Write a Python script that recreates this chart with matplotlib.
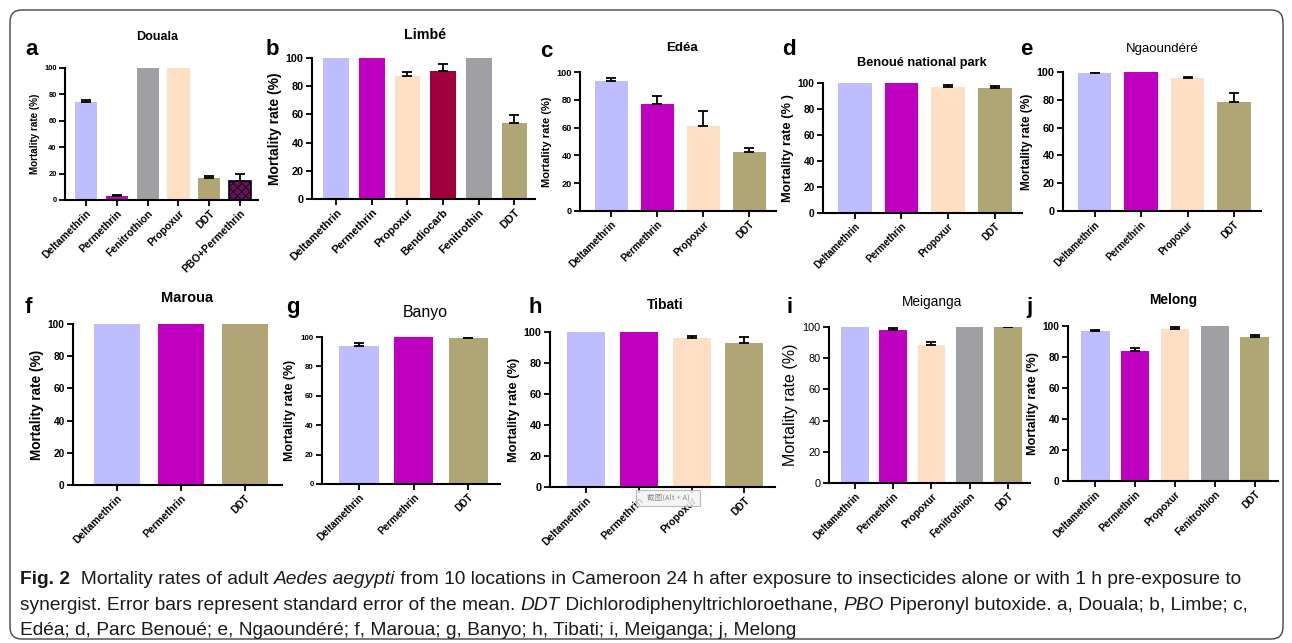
import matplotlib.pyplot as plt
from matplotlib import font_manager
from matplotlib.patches import FancyBboxPatch, Rectangle
from matplotlib.transforms import IdentityTransform

W, H = 1292, 643

# colours used by the insecticides
LAV = "#bdbdff"
MAG = "#c000c0"
PEACH = "#ffdfc3"
OLIVE = "#b0a574"
GREY = "#a0a0a4"
CRIMSON = "#a0003c"
PBO = "#6a1060"

# ---- data (mortality %, standard error) ----
douala_drugs = ["Deltamethrin", "Permethrin", "Fenitrothion", "Propoxur", "DDT", "PBO+Permethrin"]
douala_mort = [74.2, 3.0, 100, 100, 17.0, 14.7]
douala_sem = [1.5, 1.0, 0, 0, 1.5, 5.0]

limbe_drugs = ["Deltamethrin", "Permethrin", "Propoxur", "Bendiocarb", "Fenitrothin", "DDT"]
limbe_mort = [100, 100, 87.0, 91.0, 100, 53.7]
limbe_sem = [0, 0, 3.0, 5.0, 0, 5.6]

edea_drugs = ["Deltamethrin", "Permethrin", "Propoxur", "DDT"]
edea_mort = [93.2, 76.8, 61.5, 42.3]
edea_sem = [2.2, 6.2, 10.7, 2.9]

benoue_drugs = ["Deltamethrin", "Permethrin", "Propoxur", "DDT"]
benoue_mort = [100, 100, 97.0, 96.2]
benoue_sem = [0, 0, 1.7, 1.2]

ngaoundere_drugs = ["Deltamethrin", "Permethrin", "Propoxur", "DDT"]
ngaoundere_mort = [99.3, 100, 96.0, 78.1]
ngaoundere_sem = [0.5, 0, 0.3, 7.0]

maroua_drugs = ["Deltamethrin", "Permethrin", "DDT"]
maroua_mort = [100, 100, 100]
maroua_sem = [0, 0, 0]

banyo_drugs = ["Deltamethrin", "Permethrin", "DDT"]
banyo_mort = [93.9, 100, 99.5]
banyo_sem = [1.8, 0, 0.3]

tibati_drugs = ["Deltamethrin", "Permethrin", "Propoxur", "DDT"]
tibati_mort = [100, 100, 96.4, 93.0]
tibati_sem = [0, 0, 1.2, 4.0]

meiganga_drugs = ["Deltamethrin", "Permethrin", "Propoxur", "Fenitrothion", "DDT"]
meiganga_mort = [100, 98.1, 88.3, 100, 99.8]
meiganga_sem = [0, 1.0, 1.9, 0, 0.2]

melong_drugs = ["Deltamethrin", "Permethrin", "Propoxur", "Fenitrothion", "DDT"]
melong_mort = [97.0, 83.9, 97.8, 100, 92.9]
melong_sem = [0.6, 1.7, 1.8, 0, 1.3]

drug_colour = {"Deltamethrin": LAV, "Permethrin": MAG, "Propoxur": PEACH, "DDT": OLIVE,
               "Fenitrothion": GREY, "Fenitrothin": GREY, "Bendiocarb": CRIMSON,
               "PBO+Permethrin": PBO}

plt.rcParams["font.family"] = ["Liberation Sans", "DejaVu Sans"]
plt.rcParams["hatch.linewidth"] = 0.6

fig = plt.figure(figsize=(W / 100, H / 100), dpi=100)


def px_axes(x0, ytop, x1, ybot):
    return fig.add_axes([x0 / W, 1 - ybot / H, (x1 - x0) / W, (ybot - ytop) / H])


def fig_text(x, y, s, **kw):
    fig.text(x / W, 1 - y / H, s, **kw)


# letter, title, drugs, values, sem, axes box (px), title pos (px), letter pos (px),
# font sizes (title, xticks, yticks, ylabel), weights (title, xticks, yticks/ylabel)
panels = [
    ("a", "Douala", douala_drugs, douala_mort, douala_sem, (65, 68, 258, 200), (157, 37), (25, 55),
     (9.1, 7.5, 5.4, 7.1), ("bold", "bold", "bold")),
    ("b", "Limbé", limbe_drugs, limbe_mort, limbe_sem, (312, 58, 535, 199), (425, 35), (266, 55),
     (10.3, 7.9, 7.8, 10.0), ("bold", "bold", "bold")),
    ("c", "Edéa", edea_drugs, edea_mort, edea_sem, (580, 72, 776, 211), (682, 48), (540, 57),
     (9.6, 7.2, 6.6, 8.0), ("bold", "bold", "bold")),
    ("d", "Benoué national park", benoue_drugs, benoue_mort, benoue_sem, (823, 83, 1022, 213), (922, 63),
     (782, 55), (9.2, 7.0, 7.3, 9.3), ("bold", "bold", "bold")),
    ("e", "Ngaoundéré", ngaoundere_drugs, ngaoundere_mort, ngaoundere_sem, (1063, 72, 1261, 211),
     (1162, 49), (1020, 55), (9.5, 6.9, 7.8, 8.6), ("normal", "bold", "bold")),
    ("f", "Maroua", maroua_drugs, maroua_mort, maroua_sem, (73, 324, 282, 485), (187, 298), (25, 313),
     (10.5, 7.5, 7.3, 9.8), ("bold", "bold", "bold")),
    ("g", "Banyo", banyo_drugs, banyo_mort, banyo_sem, (322, 337, 500, 484), (425, 312), (286, 313),
     (11.4, 7.2, 5.7, 8.9), ("normal", "bold", "bold")),
    ("h", "Tibati", tibati_drugs, tibati_mort, tibati_sem, (550, 332, 775, 487), (665, 305), (528, 313),
     (10.0, 7.5, 7.8, 9.3), ("bold", "bold", "bold")),
    ("i", "Meiganga", meiganga_drugs, meiganga_mort, meiganga_sem, (829, 327, 1030, 483), (932, 302),
     (786, 313), (9.8, 7.2, 7.8, 11.5), ("normal", "bold", "normal")),
    ("j", "Melong", melong_drugs, melong_mort, melong_sem, (1068, 326, 1278, 481), (1173, 300),
     (1026, 313), (9.9, 7.2, 7.3, 9.1), ("bold", "bold", "bold")),
]

for letter, title, drugs, mort, sem, box, tpos, lpos, sizes, weights in panels:
    tfs, xfs, yfs, lfs = sizes
    tw, xw, yw = weights
    ax = px_axes(*box)
    n = len(drugs)
    xs = list(range(n))
    for xi, d, m in zip(xs, drugs, mort):
        if d == "PBO+Permethrin":
            ax.bar(xi, m, width=0.72, color=drug_colour[d], edgecolor="black", hatch="xxxx", linewidth=1.2)
        else:
            ax.bar(xi, m, width=0.72, color=drug_colour[d], linewidth=0)
    ex = [xi for xi, s in zip(xs, sem) if s > 0]
    ey = [m for m, s in zip(mort, sem) if s > 0]
    es = [s for s in sem if s > 0]
    if ex:
        ax.errorbar(ex, ey, yerr=[[0] * len(es), es], fmt="none", ecolor="black",
                    elinewidth=1.3, capsize=3.8, capthick=1.3)
    ax.set_ylim(0, 100)
    ax.set_xlim(-0.68, n - 0.42)
    ax.set_yticks([0, 20, 40, 60, 80, 100])
    ax.set_xticks(xs)
    ax.set_xticklabels(drugs, rotation=45, ha="right", rotation_mode="anchor",
                       fontsize=xfs, fontweight=xw)
    for lab in ax.get_yticklabels():
        lab.set_fontsize(yfs)
        lab.set_fontweight(yw)
    ylab = "Mortality rate (% )" if letter == "d" else "Mortality rate (%)"
    ax.set_ylabel(ylab, fontsize=lfs, fontweight=yw, labelpad=3)
    for sp in ("top", "right"):
        ax.spines[sp].set_visible(False)
    for sp in ("left", "bottom"):
        ax.spines[sp].set_linewidth(1.5)
    ax.spines["bottom"].set_zorder(5)
    ax.tick_params(axis="both", direction="out", length=4, width=1.3, pad=2)
    fig_text(tpos[0], tpos[1], title, fontsize=tfs, fontweight=tw, ha="center", va="center")
    fig_text(lpos[0], lpos[1], letter, fontsize=16, fontweight="bold", ha="left", va="baseline")

# screenshot tooltip that sits over panel h
fig.patches.append(Rectangle((636, H - 506), 64, 16, transform=IdentityTransform(),
                             facecolor="#f4f4f4", edgecolor="#b0b0b0", linewidth=0.8, alpha=0.85))
fig_text(668, 498, "截图(Alt + A)", fontsize=5.5, color="#8a8a8a", ha="center", va="center",
         family=["Noto Sans CJK SC", "DejaVu Sans"])

# rounded frame round the figure
fig.patches.append(FancyBboxPatch((10, 4), 1273, 629, boxstyle="round,pad=0,rounding_size=12",
                                  transform=IdentityTransform(), facecolor="none",
                                  edgecolor="#444444", linewidth=1.0))

# ---- caption ----
names = {f.name for f in font_manager.fontManager.ttflist}
CAP_FONT = "Liberation Sans Narrow" if "Liberation Sans Narrow" in names else "Liberation Sans"
renderer = fig.canvas.get_renderer()


def measure(s, size, style, weight):
    t = fig.text(0, 0, "|" + s + "|", fontsize=size, fontstyle=style, fontweight=weight, family=CAP_FONT)
    t2 = fig.text(0, 0, "||", fontsize=size, fontstyle=style, fontweight=weight, family=CAP_FONT)
    w = t.get_window_extent(renderer).width - t2.get_window_extent(renderer).width
    t.remove()
    t2.remove()
    return w


caption = [
    [("Fig. 2", "normal", "bold"), ("  Mortality rates of adult ", "normal", "normal"),
     ("Aedes aegypti", "italic", "normal"),
     (" from 10 locations in Cameroon 24 h after exposure to insecticides alone or with 1 h pre-exposure to",
      "normal", "normal")],
    [("synergist. Error bars represent standard error of the mean. ", "normal", "normal"),
     ("DDT", "italic", "normal"), (" Dichlorodiphenyltrichloroethane, ", "normal", "normal"),
     ("PBO", "italic", "normal"), (" Piperonyl butoxide. a, Douala; b, Limbe; c,", "normal", "normal")],
    [("Edéa; d, Parc Benoué; e, Ngaoundéré; f, Maroua; g, Banyo; h, Tibati; i, Meiganga; j, Melong",
      "normal", "normal")],
]
caption_y = [584, 610, 635]

base = 10.0
w1 = sum(measure(s, base, st, wt) for s, st, wt in caption[0])
cap_size = base * 1228 / w1

for parts, y in zip(caption, caption_y):
    x = 20
    for s, st, wt in parts:
        fig.text(x / W, 1 - y / H, s, fontsize=cap_size, fontstyle=st, fontweight=wt,
                 family=CAP_FONT, va="baseline", ha="left", color="#1a1a1a")
        x += measure(s, cap_size, st, wt)

fig.savefig("out.png", dpi=100)
